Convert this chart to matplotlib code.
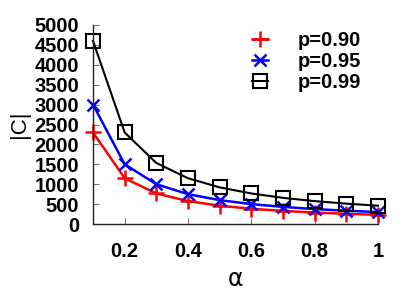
import numpy as np
from matplotlib import pyplot as plt

plt.rcParams['font.family'] = ['Liberation Sans', 'DejaVu Sans']

# data
alpha = [0.1, 0.2, 0.3, 0.4, 0.5, 0.6, 0.7, 0.8, 0.9, 1.0]
c_p90 = [2300, 1150, 767, 575, 460, 383, 329, 288, 256, 230]
c_p95 = [3000, 1500, 1000, 750, 600, 500, 430, 375, 333, 300]
c_p99 = [4600, 2300, 1533, 1150, 920, 767, 657, 575, 511, 460]
xticks = [0.2, 0.4, 0.6, 0.8, 1]
yticks = [0, 500, 1000, 1500, 2000, 2500, 3000, 3500, 4000, 4500, 5000]

fig = plt.figure(figsize=(4.15, 2.91), dpi=100)
ax = fig.add_axes([93/415, 1 - 224/291, (378-93)/415, (224-25)/291])

ax.plot(alpha, c_p90, color="red", linewidth=1.8, marker="+", markersize=11,
        markeredgewidth=1.8, label="p=0.90")
ax.plot(alpha, c_p95, color="blue", linewidth=1.8, marker="x", markersize=9,
        markeredgewidth=1.8, label="p=0.95")
ax.plot(alpha, c_p99, color="black", linewidth=1.5, marker="s", markersize=10,
        markeredgewidth=1.5, markerfacecolor="none", label="p=0.99")

ax.set_xlim(0.1, 1)
ax.set_ylim(0, 5000)
ax.set_xticks(xticks)
ax.set_xticklabels(["0.2", "0.4", "0.6", "0.8", "1"])
ax.set_yticks(yticks)
for sp in ["top", "right"]:
    ax.spines[sp].set_visible(False)
for sp in ["left", "bottom"]:
    ax.spines[sp].set_linewidth(1.0)
    ax.spines[sp].set_color("#222222")
ax.tick_params(direction="in", length=4, width=0.6, color="#555555")
for lab in ax.get_xticklabels() + ax.get_yticklabels():
    lab.set_fontsize(14.5)
    lab.set_fontweight("bold")
ax.tick_params(axis="x", pad=13)
ax.tick_params(axis="y", pad=10)
ax.set_xlabel("α", fontsize=17, labelpad=4, family=["DejaVu Sans"])
ax.set_ylabel("|C|", fontsize=16, labelpad=3)
for ln in ax.lines:
    ln.set_clip_on(False)

leg = ax.legend(loc="upper right", bbox_to_anchor=(1.003, 1.06), frameon=False,
                prop={"size": 14.5, "weight": "bold"}, handlelength=0.8,
                handletextpad=1.45, labelspacing=0.1)

fig.savefig("out.png", dpi=100)
